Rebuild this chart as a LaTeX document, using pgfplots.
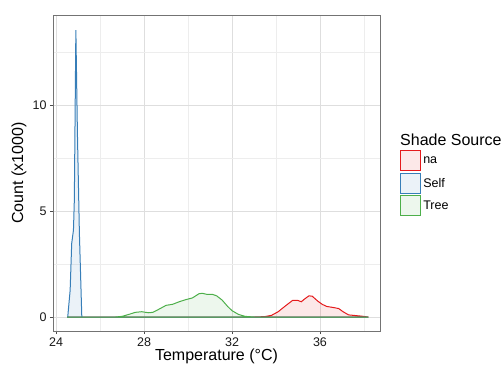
\documentclass[border=0pt]{standalone}
\usepackage{fontspec}
\setmainfont{Liberation Sans}
\usepackage{pgfplots}
\pgfplotsset{compat=1.18}
\definecolor{setred}{HTML}{E41A1C}
\definecolor{setblue}{HTML}{377EB8}
\definecolor{setgreen}{HTML}{4DAF4A}
\begin{document}
\begin{tikzpicture}
\useasboundingbox (0,0) rectangle (503bp,366bp);
\begin{axis}[
  clip mode=individual,
  scale only axis, width=327bp, height=316bp,
  at={(53bp,35bp)}, anchor=south west,
  xmin=23.86, xmax=38.73, ymin=-0.66, ymax=14.25,
  xtick={24,28,32,36}, minor xtick={26,30,34,38},
  ytick={0,5,10}, minor ytick={2.5,7.5,12.5},
  grid=both,
  major grid style={color=black!13, line width=0.6bp},
  minor grid style={color=black!7, line width=0.4bp},
  tick align=outside, tick pos=left,
  major tick length=3bp, minor tick length=0bp,
  tick style={color=black!70, line width=0.6bp},
  axis line style={color=black!55, line width=0.8bp},
  /pgf/number format/assume math mode=true,
  ticklabel style={font=\fontsize{12.5bp}{14bp}\selectfont, color=black!90},
  xlabel={Temperature (°C)},
  ylabel={Count (x1000)},
  label style={font=\fontsize{16bp}{18bp}\selectfont},
  xlabel style={at={(axis description cs:0.5,0)}, anchor=base, yshift=-29bp},
  ylabel style={at={(axis description cs:0,0.5)}, anchor=center, yshift=34bp},
  legend style={at={(axis description cs:1,0.5728)}, anchor=north west, xshift=20bp,
    draw=none, fill=none, inner sep=0pt, row sep=1.5bp,
    font=\fontsize{12.5bp}{14bp}\selectfont},
  legend cell align=left,
]
\addlegendimage{legend image code/.code={\draw[draw=setred, fill=setred!10, line width=1.1bp] (0bp,-10bp) rectangle (20bp,10bp);}}
\addlegendentry{na}
\addlegendimage{legend image code/.code={\draw[draw=setblue, fill=setblue!10, line width=1.1bp] (0bp,-10bp) rectangle (20bp,10bp);}}
\addlegendentry{Self}
\addlegendimage{legend image code/.code={\draw[draw=setgreen, fill=setgreen!10, line width=1.1bp] (0bp,-10bp) rectangle (20bp,10bp);}}
\addlegendentry{Tree}
% na
\addplot[forget plot, draw=setred, fill=setred, fill opacity=0.1, line width=1bp] coordinates {
(24.5,0)(33.0,0)(33.5,0.02)(33.8,0.08)(34.1,0.25)(34.4,0.5)(34.75,0.78)(35.0,0.78)(35.15,0.72)(35.3,0.85)(35.5,1.0)(35.65,0.98)(35.9,0.75)(36.1,0.6)(36.3,0.5)(36.6,0.45)(36.85,0.4)(37.05,0.25)(37.3,0.1)(37.6,0.07)(37.9,0.04)(38.2,0)
} \closedcycle;
% Self
\addplot[forget plot, draw=setblue, fill=setblue, fill opacity=0.1, line width=1bp] coordinates {
(24.5,0)(24.53,0)(24.64,1.27)(24.71,3.47)(24.79,4.1)(24.83,5.5)(24.9,13.54)(24.97,8.7)(25.06,3.96)(25.17,0)(38.2,0)
} \closedcycle;
% Tree
\addplot[forget plot, draw=setgreen, fill=setgreen, fill opacity=0.1, line width=1bp] coordinates {
(24.5,0)(26.7,0)(27.0,0.03)(27.3,0.12)(27.6,0.22)(27.9,0.25)(28.2,0.2)(28.4,0.22)(28.7,0.38)(29.0,0.55)(29.3,0.6)(29.6,0.72)(29.9,0.82)(30.2,0.9)(30.5,1.1)(30.65,1.12)(30.85,1.07)(31.1,1.07)(31.3,1.0)(31.55,0.8)(31.8,0.5)(32.0,0.3)(32.3,0.12)(32.6,0.03)(33.0,0)(38.2,0)
} \closedcycle;
\node[anchor=base west, xshift=20bp, inner xsep=0pt, font=\fontsize{16bp}{18bp}\selectfont] at (axis description cs:1,0.5886) {Shade Source};
\end{axis}
\end{tikzpicture}
\end{document}
